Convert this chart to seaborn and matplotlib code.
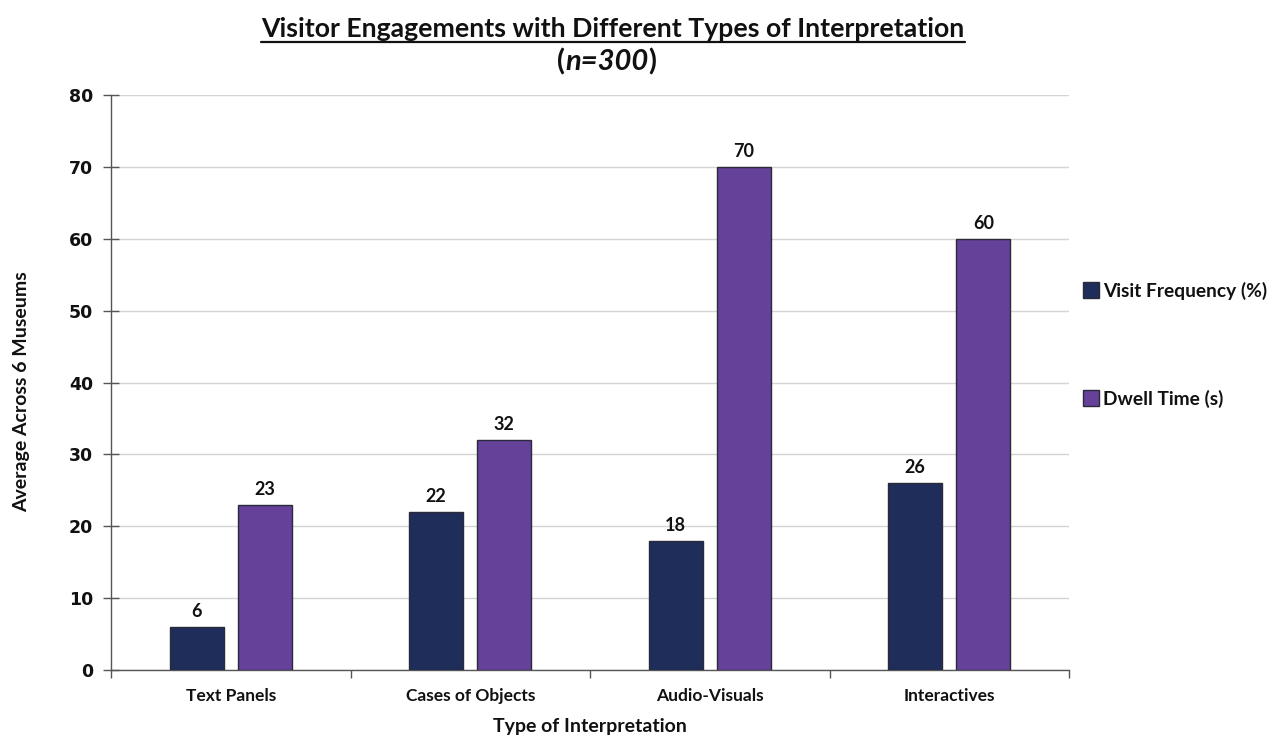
import matplotlib
matplotlib.use("Agg")
import matplotlib.pyplot as plt
import seaborn as sns
import pandas as pd
from matplotlib.lines import Line2D

# Data
categories = ["Text Panels", "Cases of Objects", "Audio-Visuals", "Interactives"]
visit_frequency = [6, 22, 18, 26]
dwell_time = [23, 32, 70, 60]
series_names = ["Visit Frequency (%)", "Dwell Time (s)"]
y_ticks = [0, 10, 20, 30, 40, 50, 60, 70, 80]

df = pd.DataFrame({
    "category": categories * 2,
    "series": [series_names[0]] * len(categories) + [series_names[1]] * len(categories),
    "value": visit_frequency + dwell_time,
})

sns.set_theme(style="white")
plt.rcParams["font.family"] = ["Lato", "DejaVu Sans"]

NAVY = "#1f2d5a"
PURPLE = "#65419a"
EDGE = "#2a2a3a"
TXT = "#111111"

fig = plt.figure(figsize=(12.77, 7.38), dpi=100)
ax = fig.add_axes([111 / 1277, 1 - 670 / 738, (1069 - 111) / 1277, (670 - 95) / 738])

sns.barplot(data=df, x="category", y="value", hue="series", order=categories,
            hue_order=series_names, palette=[NAVY, PURPLE], saturation=1,
            width=0.57, gap=0.21, edgecolor=EDGE, linewidth=1.0, ax=ax,
            legend=False, zorder=3)

# value labels
for cont in ax.containers:
    ax.bar_label(cont, fmt="%g", padding=5, fontsize=13, fontweight="bold", color=TXT)

ax.set_ylim(0, 80)
ax.set_xlim(-0.5, len(categories) - 0.5)
ax.set_yticks(y_ticks)
ax.yaxis.grid(True, color="#d4d4d4", linewidth=1.0, zorder=0)
ax.set_axisbelow(True)

for s in ["top", "right"]:
    ax.spines[s].set_visible(False)
for s in ["left", "bottom"]:
    ax.spines[s].set_color("#555555")
    ax.spines[s].set_linewidth(1.0)

ax.tick_params(axis="y", direction="inout", length=12, width=1, color="#555555",
               left=True, pad=7)
for lab in ax.get_yticklabels():
    lab.set_fontfamily("DejaVu Sans")
    lab.set_fontweight("bold")
    lab.set_fontsize(12.5)
    lab.set_color(TXT)

# category labels centered, tick marks at group boundaries
ax.tick_params(axis="x", which="major", length=0, pad=13)
ax.set_xticks([i - 0.5 for i in range(len(categories) + 1)], minor=True)
ax.tick_params(axis="x", which="minor", direction="out", length=6, width=1,
               color="#555555", bottom=True)
for lab in ax.get_xticklabels():
    lab.set_fontweight("bold")
    lab.set_fontsize(12.5)
    lab.set_color(TXT)

ax.set_xlabel("Type of Interpretation", fontsize=14, fontweight="bold", color=TXT, labelpad=10)
ax.set_ylabel("Average Across 6 Museums", fontsize=14, fontweight="bold", color=TXT)
ax.yaxis.set_label_coords(-0.084, 0.485)

# legend
handles = [Line2D([0], [0], marker="s", linestyle="", markersize=11,
                  markerfacecolor=c, markeredgecolor=EDGE, markeredgewidth=1.0)
           for c in (NAVY, PURPLE)]
leg = fig.legend(handles, series_names, loc="center left",
                 bbox_to_anchor=(1074 / 1277, 1 - 345 / 738), frameon=False,
                 prop={"family": "Lato", "weight": "bold", "size": 13.8},
                 labelspacing=4.7, handletextpad=0.1, handlelength=1.0, borderaxespad=0)
for t in leg.get_texts():
    t.set_color(TXT)

# title with underline, and subtitle with italic sample size
title = fig.text(613 / 1277, 1 - 29 / 738, "Visitor Engagements with Different Types of Interpretation",
                 ha="center", va="center", fontsize=19.2, fontweight="bold", color=TXT)
fig.canvas.draw()
renderer = fig.canvas.get_renderer()
bb = title.get_window_extent(renderer)
inv = fig.transFigure.inverted()
(x0, y0), (x1, y1) = inv.transform([(bb.x0, bb.y0), (bb.x1, bb.y0)])
fig.add_artist(Line2D([x0, x1], [y0 - 0.001, y0 - 0.001], transform=fig.transFigure,
                      color=TXT, linewidth=1.6))

sub_y = 1 - 62 / 738
parts = [("(", "normal"), ("n=300", "italic"), (")", "normal")]
objs = [fig.text(0, sub_y, p, ha="left", va="center", fontsize=21, fontweight="bold",
                 fontstyle=st, color=TXT) for p, st in parts]
widths = [o.get_window_extent(renderer).width for o in objs]
total = sum(widths)
start = 607 - total / 2
for o, w in zip(objs, widths):
    o.set_x(start / 1277)
    start += w

fig.savefig("out.png", dpi=100, facecolor="white")
